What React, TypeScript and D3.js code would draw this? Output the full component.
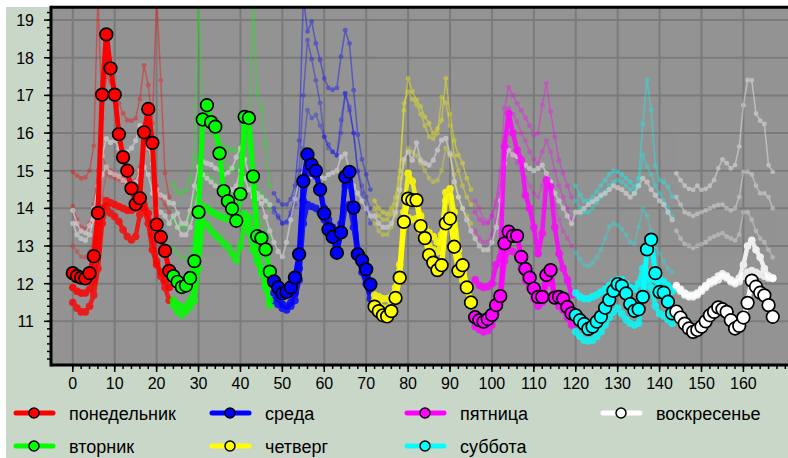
import React from "react";
import * as d3 from "d3";

const N = null;
const dayNames = ["понедельник", "вторник", "среда", "четверг", "пятница", "суббота", "воскресенье"];
const dayColors = ["#ff0000", "#00ff00", "#0000ff", "#ffff00", "#ff00ff", "#00ffff", "#ffffff"];
const xTicks = [0, 10, 20, 30, 40, 50, 60, 70, 80, 90, 100, 110, 120, 130, 140, 150, 160];
const yTicks = [11, 12, 13, 14, 15, 16, 17, 18, 19];

// current week (bold, outlined markers), one row per day, hours 0..23
const mainSeries = [
  [12.28, 12.2, 12.16, 12.14, 12.28, 12.73, 13.88, 17.02, 18.62, 17.72, 17.02, 15.97, 15.36, 15.0, 14.53, 14.11, 14.27, 16.02, 16.64, 15.74, 13.57, 13.24, 12.87, 12.34],
  [12.2, 12.05, 11.91, 11.95, 12.15, 12.6, 13.9, 16.36, 16.74, 16.29, 16.17, 15.46, 14.46, 14.19, 13.99, 13.67, 14.38, 16.43, 16.4, 14.85, 13.26, 13.21, 12.91, 12.32],
  [12.06, 11.9, 11.74, 11.78, 11.9, 12.16, 12.78, 14.72, 15.43, 15.16, 15.0, 14.5, 13.86, 13.44, 13.24, 12.82, 13.36, 14.84, 14.97, 14.02, 12.78, 12.62, 12.38, 11.98],
  [11.39, 11.27, 11.16, 11.13, 11.27, 11.62, 12.16, 13.64, 14.26, 14.22, 14.22, 13.53, 13.21, 12.76, 12.56, 12.36, 12.49, 13.6, 13.73, 12.98, 12.34, 12.49, 11.9, 11.5],
  [11.11, 11.03, 10.99, 11.06, 11.17, 11.43, 11.67, 13.07, 13.38, 13.27, 13.27, 12.71, 12.39, 12.16, 11.87, 11.65, 11.65, 12.23, 12.36, 11.63, 11.65, 11.6, 11.38, 11.21],
  [11.16, 11.03, 10.93, 10.8, 10.86, 10.99, 11.12, 11.36, 11.57, 11.81, 11.99, 11.94, 11.74, 11.46, 11.28, 11.32, 11.65, 12.91, 13.17, 12.28, 11.78, 11.76, 11.52, 11.21],
  [11.26, 11.1, 10.94, 10.81, 10.72, 10.77, 10.86, 11.0, 11.16, 11.25, 11.37, 11.32, 11.25, 11.03, 10.81, 10.88, 11.1, 11.49, 12.08, 11.92, 11.76, 11.69, 11.43, 11.12],
];

const semiA = [
  [11.9, 11.8, 11.75, 11.75, 11.85, 12.1, 12.9, 14.0, 14.2, 14.15, 14.1, 14.05, 14.0, 13.95, 13.95, 14.0, 14.1, 14.0, 13.6, 12.9, 12.5, 12.3, 12.1, 11.9],
  [11.55, 11.45, 11.35, 11.4, 11.55, 11.9, 12.8, 14.05, 14.0, 13.92, 13.85, 13.8, 13.75, 13.72, 13.7, 13.68, 13.8, 13.85, 13.4, 12.9, 12.6, 12.3, 12.0, 11.55],
  [11.75, 11.6, 11.45, 11.4, 11.5, 11.75, 12.4, 14.2, 14.95, 14.93, 14.85, 14.5, 14.0, 13.7, 13.5, 13.3, 13.6, 14.6, 14.7, 14.0, 12.9, 12.5, 12.2, 11.8],
  [11.7, 11.65, 11.6, 11.6, 11.65, 11.9, 12.5, 13.9, 14.93, 14.72, 14.2, 13.8, 13.5, 13.35, 13.25, 13.1, 13.3, 14.42, 14.52, 13.9, 12.9, 12.3, 11.9, 11.6],
  [12.1, 11.95, 11.9, 11.92, 12.0, 12.5, 12.7, 15.64, 16.52, 16.0, 15.55, 15.28, 14.35, 14.0, 13.5, 12.8, 13.34, 14.75, 14.57, 13.5, 12.8, 12.4, 12.1, 11.7],
  [11.75, 11.65, 11.6, 11.6, 11.65, 11.7, 11.78, 11.85, 11.95, 12.05, 12.1, 12.1, 12.0, 11.9, 11.85, 12.0, 12.4, 12.3, 12.15, 12.1, 12.15, 12.05, 11.95, 11.8],
  [11.95, 11.85, 11.75, 11.7, 11.7, 11.75, 11.85, 11.95, 12.05, 12.1, 12.2, 12.26, 12.2, 12.1, 12.05, 12.15, 12.5, 13.0, 13.15, 12.9, 12.7, 12.4, 12.2, 12.15],
];

const semiB = [
  [11.5, 11.35, 11.25, 11.25, 11.4, 11.7, 12.4, 13.6, 14.05, 13.87, 13.78, 13.65, 13.43, 13.25, 13.16, 13.25, 13.83, 14.1, 13.87, 13.3, 12.6, 12.2, 11.9, 11.56],
  [11.43, 11.26, 11.17, 11.26, 11.39, 11.56, 12.4, 13.65, 13.56, 13.42, 13.29, 13.2, 13.07, 12.98, 12.8, 12.62, 13.0, 13.65, 13.74, 13.3, 12.9, 12.4, 11.9, 11.43],
  [11.55, 11.45, 11.35, 11.3, 11.4, 11.55, 12.1, 13.6, 14.1, 14.05, 14.0, 13.9, 13.7, 13.4, 13.2, 13.0, 13.3, 14.0, 14.1, 13.5, 12.7, 12.3, 12.0, 11.6],
  [11.55, 11.45, 11.35, 11.35, 11.45, 11.75, 12.3, 13.5, 13.75, 13.7, 13.73, 13.4, 13.2, 13.0, 12.9, 12.85, 13.1, 14.2, 14.3, 13.4, 12.6, 12.1, 11.8, 11.55],
  [10.86, 10.78, 10.72, 10.75, 10.9, 11.2, 11.5, 12.6, 12.9, 12.85, 12.8, 12.4, 12.1, 11.9, 11.6, 11.4, 11.5, 12.0, 12.1, 11.6, 11.4, 11.3, 11.1, 10.9],
  [10.72, 10.6, 10.5, 10.48, 10.5, 10.6, 10.72, 10.9, 11.1, 11.25, 11.35, 11.2, 11.05, 10.95, 10.9, 10.95, 11.6, 12.2, 11.9, 11.4, 11.2, 11.15, 11.05, 10.95],
  [11.9, 11.8, 11.7, 11.65, 11.65, 11.7, 11.8, 11.9, 12.0, 12.05, 12.1, 12.2, 12.15, 12.05, 12.0, 12.05, 12.2, 12.31, 12.35, 12.3, 12.25, 12.2, 12.15, 12.14],
];

const fadeA = [
  [14.97, 14.87, 14.8, 14.82, 15.0, 15.66, 19.6, 16.39, 17.5, 17.36, 16.83, 16.79, 16.52, 16.34, 16.33, 16.39, 16.9, 17.8, 17.27, 16.26, 19.6, 17.4, 14.93, 14.3],
  [14.63, 14.45, 14.4, 14.5, 14.76, 15.38, 19.6, 16.7, 16.3, 16.0, 15.9, 15.81, 15.64, 15.6, 15.55, 15.55, 15.6, 16.2, 15.8, 19.6, 17.05, 16.65, 15.72, 14.6],
  [14.4, 14.2, 14.1, 14.1, 14.25, 14.6, 15.8, 19.6, 18.7, 18.96, 18.38, 17.94, 17.45, 17.2, 17.15, 17.2, 18.03, 18.73, 18.38, 17.14, 15.95, 15.3, 14.9, 14.5],
  [14.2, 14.0, 13.9, 13.85, 14.0, 14.3, 15.0, 16.6, 17.45, 17.1, 16.88, 16.7, 16.43, 16.26, 15.99, 16.12, 16.34, 17.45, 16.5, 15.8, 15.41, 15.2, 14.8, 14.5],
  [13.9, 13.7, 13.6, 13.6, 13.8, 14.2, 15.0, 16.66, 17.21, 17.0, 16.79, 16.6, 16.4, 16.2, 15.95, 15.99, 16.74, 17.32, 16.57, 15.9, 15.28, 14.93, 14.6, 14.3],
  [14.6, 14.35, 14.2, 14.2, 14.3, 14.45, 14.6, 14.75, 14.9, 15.0, 14.97, 14.9, 14.8, 14.7, 14.57, 14.8, 16.24, 17.41, 16.6, 15.13, 14.75, 14.7, 14.57, 14.31],
  [14.93, 14.75, 14.6, 14.52, 14.49, 14.6, 14.49, 14.52, 14.6, 14.75, 15.06, 15.3, 15.2, 15.06, 15.15, 15.64, 16.74, 17.41, 17.4, 16.52, 16.33, 16.24, 15.15, 14.97],
];

const fadeB = [
  [14.06, 13.7, 13.5, 13.45, 13.6, 14.1, 15.0, 15.4, 15.1, 15.0, 14.9, 14.85, 14.8, 14.75, 14.7, 14.75, 15.1, 15.6, 15.55, 15.2, 14.6, 14.3, 14.1, 13.9],
  [13.69, 13.55, 13.49, 13.5, 13.75, 14.3, 15.3, 16.2, 16.6, 16.3, 16.0, 15.6, 15.3, 15.1, 15.0, 15.1, 15.5, 16.0, 15.6, 15.0, 14.6, 14.4, 14.2, 14.0],
  [14.0, 13.8, 13.6, 13.65, 13.9, 14.3, 15.0, 17.0, 18.47, 17.96, 17.4, 16.8, 15.9, 15.7, 15.5, 15.4, 16.35, 17.05, 16.6, 16.0, 14.97, 14.4, 14.0, 13.6],
  [14.0, 13.8, 13.7, 13.7, 13.85, 14.1, 14.8, 16.79, 17.1, 16.9, 16.75, 16.5, 16.2, 15.9, 15.85, 16.0, 16.96, 16.8, 16.2, 15.4, 15.0, 14.6, 14.3, 14.1],
  [13.4, 13.2, 13.1, 13.1, 13.3, 13.7, 14.4, 15.8, 16.66, 16.5, 16.3, 16.0, 15.8, 15.5, 15.3, 15.2, 15.5, 15.8, 15.5, 15.0, 14.6, 14.3, 14.0, 13.7],
  [14.2, 14.0, 13.9, 13.9, 14.0, 14.15, 14.3, 14.45, 14.6, 14.7, 14.75, 14.7, 14.6, 14.5, 14.4, 14.6, 15.42, 15.1, 14.9, 14.6, 14.4, 14.2, 14.0, 13.8],
  [14.3, 14.1, 13.9, 13.85, 13.8, 13.85, 13.9, 13.95, 14.0, 14.05, 14.09, 14.1, 14.0, 13.95, 14.0, 14.3, 14.97, 14.97, 14.9, 14.6, 14.4, 14.4, 14.3, 14.0],
];

const fadeC = [
  [13.0, 12.85, 12.72, 12.7, 12.85, 13.2, 13.9, 14.3, 14.9, 14.85, 14.8, 14.75, 14.7, 14.65, 14.6, 14.6, 14.5, 14.1, 13.9, 13.5, 13.1, 12.9, 12.7, 12.5],
  [12.93, 12.8, 12.68, 12.7, 12.9, 13.3, 14.0, 14.8, 14.9, 14.8, 14.7, 14.6, 14.5, 14.45, 14.4, 14.45, 14.6, 14.9, 14.7, 14.3, 13.9, 13.6, 13.4, 13.2],
  [13.9, 13.75, 13.6, 13.62, 13.8, 14.1, 14.6, 15.6, 16.61, 16.4, 16.48, 16.2, 15.9, 15.6, 15.5, 15.42, 16.0, 17.05, 16.7, 16.0, 15.0, 14.6, 14.3, 14.0],
  [13.6, 13.4, 13.3, 13.3, 13.5, 13.8, 14.3, 15.2, 15.6, 15.5, 15.4, 15.2, 15.0, 14.8, 14.7, 14.75, 15.0, 15.6, 15.4, 14.9, 14.3, 14.0, 13.8, 13.6],
  [14.2, 14.0, 13.7, 13.65, 13.8, 14.1, 14.6, 15.3, 15.6, 15.4, 15.2, 15.0, 14.8, 14.6, 14.4, 14.3, 14.6, 14.9, 14.6, 14.1, 13.7, 13.4, 13.2, 13.0],
  [12.82, 12.65, 12.5, 12.47, 12.55, 12.7, 12.9, 13.2, 13.5, 13.6, 13.55, 13.45, 13.3, 13.1, 13.05, 13.5, 14.0, 13.8, 13.4, 13.0, 12.8, 12.6, 12.4, 12.3],
  [13.4, 13.2, 13.05, 13.0, 12.95, 13.0, 13.05, 13.1, 13.2, 13.25, 13.3, 13.34, 13.25, 13.2, 13.15, 13.3, 13.9, 13.9, 13.7, 13.4, 13.2, 13.1, 12.9, 12.7],
];

// light grey reference lines, continuous over the week
const grayA = [
  13.95, 13.6, 13.4, 13.35, 13.55, 14.0, 14.6, 15.4, 15.85, 15.75, 15.8, 15.6, 15.45, 15.5, 15.6, 15.8, 16.2, 15.9, 15.6, 15.2, 14.5, 14.35, 14.3, 14.15,
  14.13, 13.87, 13.6, 13.6, 13.95, 14.6, 15.1, 15.24, 15.2, 15.16, 15.07, 15.03, 14.9, 14.95, 15.07, 15.36, 15.6, 15.3, 14.9, 14.6, 14.4, 14.3, 14.2, 14.1,
];
const grayB = [
  13.6, 13.3, 13.2, 13.15, 13.3, 13.7, 14.3, 14.9, 15.1, 14.95, 14.9, 14.85, 14.75, 14.7, 14.65, 14.7, 15.0, 15.1, 14.9, 14.4, 14.0, 13.9, 13.8, 13.6,
  13.8, 13.5, 13.3, 13.3, 13.5, 13.9, 14.5, 14.9, 14.8, 14.7, 14.6, 14.5, 14.45, 14.4, 14.5, 14.6, 15.0, 14.8, 14.5, 14.31, 14.26, 14.13, 13.78, 13.4,
  13.1, 12.85, 12.72, 13.1, 13.7, 14.26, 14.75, 14.93, 14.9, 14.85, 14.8, 14.85, 14.8, 14.9, 14.95, 15.0, 15.37, 15.45, 15.0, 14.6, 14.4, 14.2, 14.0, 13.8,
  13.8, 13.6, 13.5, 13.5, 13.6, 13.9, 14.5, 15.3, 15.5, 15.28, 15.74, 15.28, 15.2, 15.15, 15.28, 15.55, 15.81, 15.86, 15.46, 14.71, 14.3, 14.0, 13.7, 13.4,
  13.2, 13.0, 12.9, 12.9, 13.1, 13.5, 14.2, 15.2, 15.55, 15.42, 15.38, 15.28, 15.15, 15.06, 15.0, 15.06, 15.15, 14.93, 14.71, 14.4, 14.2, 14.0, 13.8, 13.6,
  13.9, 13.9, 14.0, 14.1, 14.18, 14.25, 14.35, 14.4, 14.5, 14.6, 14.55, 14.5, 14.4, 14.3, 14.4, 14.6, 14.8, 14.7, 14.5, 14.35, 14.2, 14.1, 13.9, 13.7,
];

const FONT = "'Liberation Sans', Arial, sans-serif";

export default function App() {
  const W = 788;
  const H = 458;
  const plotL = 51, plotR = 790, plotT = 7.3, plotB = 365;
  const x = d3.scaleLinear().domain([-5.2, 170.4]).range([51, 787]);
  const y = d3.scaleLinear().domain([9.84, 19.34]).range([365, 7.3]);

  const lineGen = (offset: number) =>
    d3
      .line<number | null>()
      .defined((v) => v != null)
      .x((_, i) => x(offset + i))
      .y((v) => y(v as number));

  const layer = (
    data: (number | null)[][],
    key: string,
    width: number,
    opacity: number,
    r: number
  ) =>
    data.map((vals, d) => (
      <g key={key + d} opacity={opacity}>
        <path d={lineGen(d * 24)(vals) || ""} fill="none" stroke={dayColors[d]} strokeWidth={width} strokeLinejoin="round" />
        {vals.map((v, i) =>
          v == null ? null : <circle key={i} cx={x(d * 24 + i)} cy={y(v)} r={r} fill={dayColors[d]} />
        )}
      </g>
    ));

  const grayLayer = (vals: number[], key: string, opacity: number) => (
    <g key={key} opacity={opacity}>
      <path d={lineGen(0)(vals) || ""} fill="none" stroke="#e4e4e4" strokeWidth={1.6} />
      {vals.map((v, i) => (
        <circle key={i} cx={x(i)} cy={y(v)} r={2.6} fill="#e4e4e4" />
      ))}
    </g>
  );

  const xMinor = d3.range(0, 171, 2);
  const yMinor = d3.range(10, 19.31, 0.2);

  const legendCols = [16, 212, 407, 603];
  const legendRows = [413, 446];

  return (
    <svg width={W} height={H} style={{ position: "absolute", left: 0, top: 0, background: "#ffffff" }} fontFamily={FONT}>
      <rect x={6} y={7} width={W - 6} height={H - 7} fill="#c9d7c9" />
      <defs>
        <clipPath id="plotclip">
          <rect x={plotL} y={plotT} width={plotR - plotL} height={plotB - plotT} />
        </clipPath>
      </defs>
      <rect x={plotL} y={plotT} width={plotR - plotL} height={plotB - plotT} fill="#939393" />
      <g stroke="#7b7b7b" strokeWidth={2}>
        {xTicks.map((t) => (
          <line key={"gx" + t} x1={x(t)} x2={x(t)} y1={plotT} y2={plotB} />
        ))}
        {yTicks.map((t) => (
          <line key={"gy" + t} x1={plotL} x2={plotR} y1={y(t)} y2={y(t)} />
        ))}
      </g>
      <g clipPath="url(#plotclip)">
        {layer(fadeC, "fc", 1.5, 0.3, 2.4)}
        {layer(fadeB, "fb", 1.5, 0.35, 2.4)}
        {layer(fadeA, "fa", 1.5, 0.4, 2.4)}
        {grayLayer(grayA, "ga", 0.55)}
        {grayLayer(grayB, "gb", 0.55)}
        {layer(semiB, "sb", 4.5, 0.8, 3.8)}
        {layer(semiA, "sa", 4.5, 0.85, 3.8)}
        {mainSeries.map((vals, d) => (
          <g key={"m" + d}>
            <path d={lineGen(d * 24)(vals) || ""} fill="none" stroke={dayColors[d]} strokeWidth={5} strokeLinejoin="round" />
          </g>
        ))}
        {mainSeries.map((vals, d) => (
          <g key={"mc" + d}>
            {vals.map((v, i) => (
              <circle key={i} cx={x(d * 24 + i)} cy={y(v)} r={6.3} fill={dayColors[d]} stroke="#000" strokeWidth={1.7} />
            ))}
          </g>
        ))}
      </g>
      {/* frame */}
      <g stroke="#000" strokeWidth={3}>
        <line x1={plotL} x2={plotR} y1={plotT} y2={plotT} />
        <line x1={plotL} x2={plotR} y1={plotB} y2={plotB} />
        <line x1={plotL} x2={plotL} y1={plotT - 1.5} y2={plotB + 1.5} />
      </g>
      {/* ticks */}
      <g stroke="#000" strokeWidth={1.5}>
        {yTicks.map((t) => (
          <line key={"yt" + t} x1={44} x2={plotL} y1={y(t)} y2={y(t)} />
        ))}
        {yMinor.map((t, i) => (
          <line key={"ym" + i} x1={47} x2={plotL} y1={y(t)} y2={y(t)} />
        ))}
        {xTicks.map((t) => (
          <line key={"xt" + t} x1={x(t)} x2={x(t)} y1={plotB} y2={plotB + 7} />
        ))}
        {xMinor.map((t) => (
          <line key={"xm" + t} x1={x(t)} x2={x(t)} y1={plotB} y2={plotB + 4} />
        ))}
      </g>
      <g fontSize={16} fill="#000">
        {yTicks.map((t) => (
          <text key={"yl" + t} x={34} y={y(t) + 6} textAnchor="end">
            {t}
          </text>
        ))}
        {xTicks.map((t) => (
          <text key={"xl" + t} x={x(t)} y={389} textAnchor="middle">
            {t}
          </text>
        ))}
      </g>
      {/* legend */}
      {dayNames.map((name, i) => {
        const cx = legendCols[Math.floor(i / 2)];
        const cy = legendRows[i % 2];
        return (
          <g key={"lg" + i}>
            <line x1={cx} x2={cx + 37} y1={cy} y2={cy} stroke={dayColors[i]} strokeWidth={5} strokeLinecap="round" />
            <circle cx={cx + 18} cy={cy} r={5} fill={dayColors[i]} stroke="#000" strokeWidth={1.5} />
            <text x={cx + 53} y={cy + 7} fontSize={18} fill="#000">
              {name}
            </text>
          </g>
        );
      })}
    </svg>
  );
}
